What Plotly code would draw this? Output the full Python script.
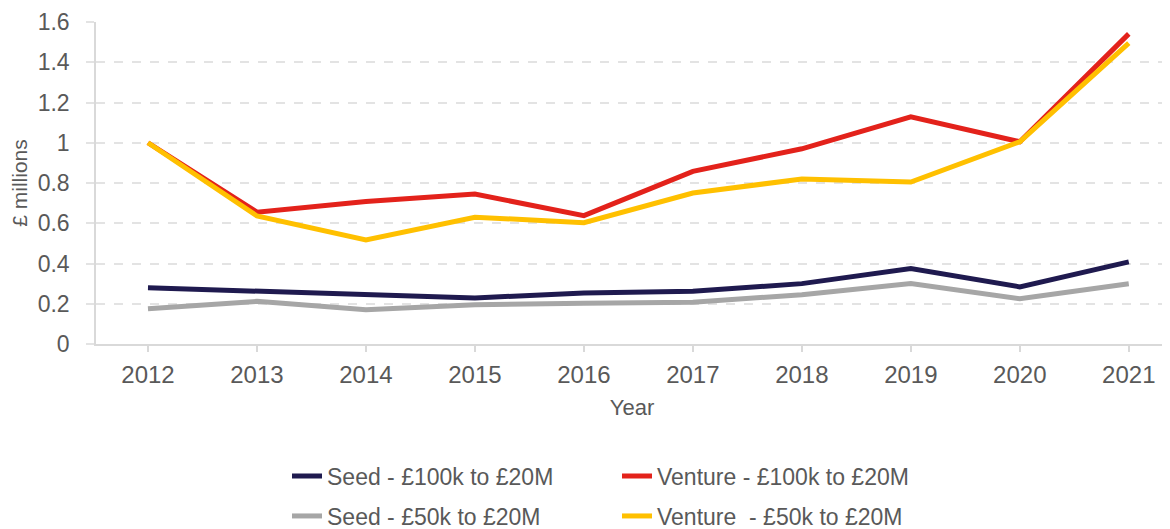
import plotly.graph_objects as go

years = ["2012", "2013", "2014", "2015", "2016", "2017", "2018", "2019", "2020", "2021"]
seed_100k = [0.279, 0.262, 0.249, 0.229, 0.254, 0.262, 0.300, 0.375, 0.284, 0.408]
venture_100k = [1.0, 0.655, 0.708, 0.745, 0.638, 0.858, 0.970, 1.129, 1.005, 1.541]
seed_50k = [0.175, 0.212, 0.170, 0.195, 0.203, 0.208, 0.245, 0.300, 0.225, 0.299]
venture_50k = [1.0, 0.636, 0.517, 0.630, 0.603, 0.750, 0.820, 0.805, 1.005, 1.495]

series = [
    ("Seed - £100k to £20M", seed_100k, "#1f1a4f", "legend"),
    ("Venture - £100k to £20M", venture_100k, "#e3221b", "legend"),
    ("Seed - £50k to £20M", seed_50k, "#a6a6a6", "legend2"),
    ("Venture  - £50k to £20M", venture_50k, "#ffc000", "legend2"),
]

FONT = "Liberation Sans, Arial, sans-serif"
TXT = "#595959"
# page body adds an 8px offset, so the figure is sized to fit the visible window
W, H = 1162, 521
fig = go.Figure()
xs = list(range(len(years)))
for name, vals, color, leg in series:
    fig.add_trace(go.Scatter(
        x=xs, y=vals, name=name, mode="lines",
        line=dict(color=color, width=5),
        legend=leg,
    ))

legend_common = dict(
    orientation="h", xanchor="left", yanchor="middle",
    xref="container", yref="container",
    font=dict(family=FONT, size=23, color=TXT),
    entrywidth=285, entrywidthmode="pixels",
    bgcolor="rgba(0,0,0,0)", tracegroupgap=0,
)

fig.update_layout(
    width=W, height=H,
    margin=dict(l=88, r=2, t=14, b=185),
    paper_bgcolor="white", plot_bgcolor="white",
    font=dict(family=FONT, size=23, color=TXT),
    showlegend=True,
    legend=dict(x=279 / W, y=1 - 468 / H, **legend_common),
    legend2=dict(x=279 / W, y=1 - 508 / H, **legend_common),
    xaxis=dict(
        range=[-0.477, 9.36], automargin=False,
        tickmode="array", tickvals=xs, ticktext=years,
        showgrid=False, zeroline=False,
        showline=True, linecolor="#d9d9d9", linewidth=1.5,
        ticks="outside", ticklen=6, tickcolor="#d9d9d9", tickwidth=1.5,
        ticklabelstandoff=2,
        tickfont=dict(family=FONT, size=24, color=TXT),
        title=dict(text="Year", font=dict(family=FONT, size=22, color=TXT), standoff=13),
    ),
    yaxis=dict(
        range=[0, 1.6], dtick=0.2, tickformat="~g", automargin=False,
        showgrid=True, gridcolor="#e3e3e3", griddash="dash", gridwidth=1.5,
        zeroline=False,
        showline=True, linecolor="#d9d9d9", linewidth=1.5,
        ticks="outside", ticklen=8, tickcolor="#e3e3e3", tickwidth=1.5,
        ticklabelstandoff=12,
        tickfont=dict(family=FONT, size=23, color=TXT),
        title=dict(text="£ millions", font=dict(family=FONT, size=21, color=TXT), standoff=5),
    ),
)

fig.write_html("out.html")
